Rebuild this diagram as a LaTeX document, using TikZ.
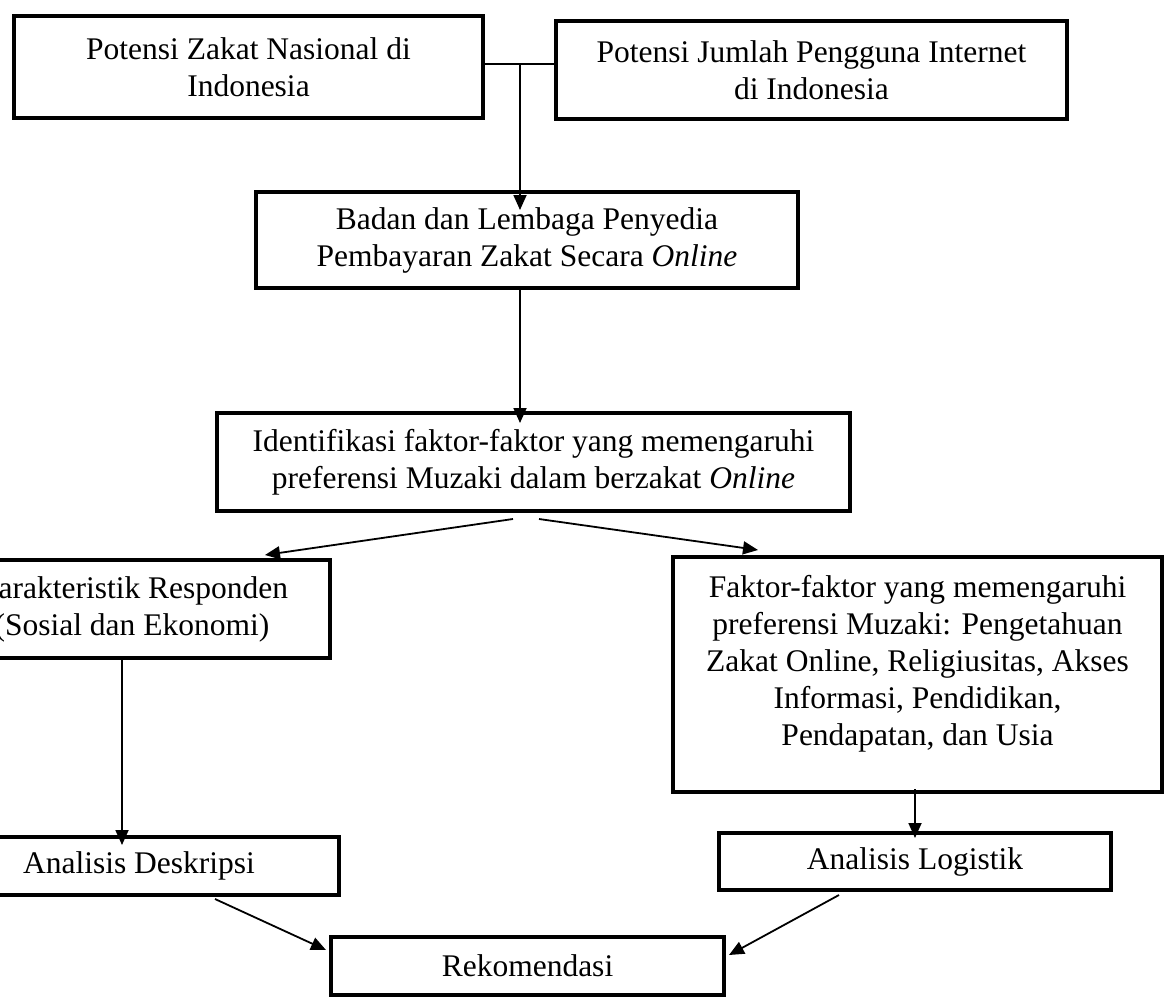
\documentclass[tikz,border=0pt]{standalone}
\usepackage{fontspec}
\setmainfont{Liberation Serif}
\usetikzlibrary{arrows.meta,calc}
\begin{document}
\begin{tikzpicture}[x=0.5pt,y=-0.5pt,
  box/.style={draw, line width=2pt, inner sep=0pt, align=center,
    font=\fontsize{15.75pt}{18.5pt}\selectfont},
  txt/.style={inner sep=0pt, align=center,
    font=\fontsize{15.75pt}{18.5pt}\selectfont},
  conn/.style={line width=0.9pt},
  arr/.style={conn, -{Triangle[length=7.5pt,width=6.5pt]}}]
\useasboundingbox (0,0) rectangle (1168,1001);
\fill[white] (0,0) rectangle (1168,1001);

\node[box, minimum width=234.5pt, minimum height=51pt] (b1) at (248.5,67)
  {Potensi Zakat Nasional di\\Indonesia};
\node[box, minimum width=255.5pt, minimum height=49pt] (b2) at (811.5,70)
  {Potensi Jumlah Pengguna Internet\\di Indonesia};
\node[box, minimum width=271pt, minimum height=48pt] (b3) at (527,240)
  {Badan dan Lembaga Penyedia\\Pembayaran Zakat Secara \textit{Online}};
\node[box, minimum width=316.5pt, minimum height=49pt] (b4) at (533.5,462)
  {Identifikasi faktor-faktor yang memengaruhi\\preferensi Muzaki dalam berzakat \textit{Online}};
\node[box, minimum width=198pt, minimum height=49pt] (b5) at (132,609)
  {Karakteristik Responden\\(Sosial dan Ekonomi)};
\node[box, minimum width=244.5pt, minimum height=117.5pt] (b6) at (917.5,674.5) {};
\node[txt] (b6t) at (917.5,664)
  {Faktor-faktor yang memengaruhi\\preferensi Muzaki: Pengetahuan\\Zakat Online, Religiusitas, Akses\\Informasi, Pendidikan,\\Pendapatan, dan Usia};
\node[box, minimum width=200pt, minimum height=29pt] (b7) at (139,866)
  {Analisis Deskripsi};
\node[box, minimum width=196pt, minimum height=28.5pt] (b8) at (915,861.5)
  {Analisis Logistik};
\node[box, minimum width=196.5pt, minimum height=29pt] (b9) at (527.5,966)
  {Rekomendasi};

% connectors
\coordinate (j) at (520,64);
\draw[conn] (b1.east |- j) -- (b2.west |- j);
\draw[arr, shorten >=-10pt] (j) -- (j |- b3.north);
\draw[arr, shorten >=-6pt] (b3.south -| j) -- (b4.north -| j);
\draw[arr] ($(b4.south)+(-20.5,6)$) -- ($(b5.north east)+(-67,-3)$);
\draw[arr] ($(b4.south)+(5.5,6)$) -- ($(b6.north west)+(87,-5)$);
\coordinate (c5) at ([xshift=-5pt]b5.south);
\draw[arr, shorten >=-5pt] (c5) -- (c5 |- b7.north);
\draw[arr, shorten <=-2.5pt, shorten >=-3.5pt] (b6.south -| b8.north) -- (b8.north);
\draw[arr] ($(b7.south)+(76,2)$) -- ($(b9.north west)+(-3,15)$);
\draw[arr] ($(b8.south)+(-76,3)$) -- ($(b9.north east)+(3,20)$);
\end{tikzpicture}
\end{document}
